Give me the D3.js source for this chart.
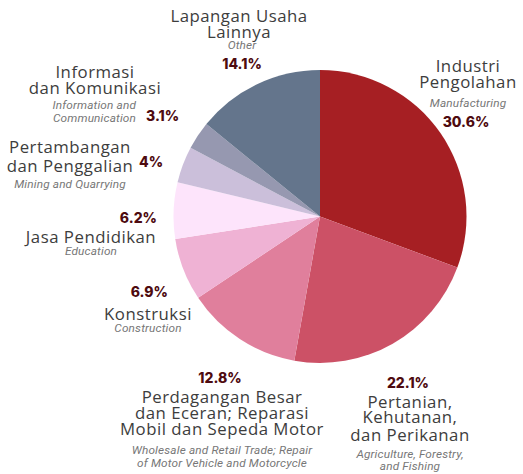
<!DOCTYPE html>
<html>
<head>
<meta charset="utf-8">
<script src="https://cdn.jsdelivr.net/npm/d3@7"></script>
<style>
  html, body { margin: 0; padding: 0; background: #ffffff; }
  svg { display: block; }
</style>
</head>
<body>
<svg id="chart" width="523" height="474"></svg>
<script>
// Sector shares of the economy (percent), drawn clockwise from 12 o'clock
const sectors = [
  "Industri Pengolahan",
  "Pertanian, Kehutanan, dan Perikanan",
  "Perdagangan Besar dan Eceran; Reparasi Mobil dan Sepeda Motor",
  "Konstruksi",
  "Jasa Pendidikan",
  "Pertambangan dan Penggalian",
  "Informasi dan Komunikasi",
  "Lapangan Usaha Lainnya"
];
const shares = [30.6, 22.1, 12.8, 6.9, 6.2, 4, 3.1, 14.1];
const shareLabels = ["30.6%", "22.1%", "12.8%", "6.9%", "6.2%", "4%", "3.1%", "14.1%"];
const titleLines = [
  ["Industri", "Pengolahan"],
  ["Pertanian,", "Kehutanan,", "dan Perikanan"],
  ["Perdagangan Besar", "dan Eceran; Reparasi", "Mobil dan Sepeda Motor"],
  ["Konstruksi"],
  ["Jasa Pendidikan"],
  ["Pertambangan", "dan Penggalian"],
  ["Informasi", "dan Komunikasi"],
  ["Lapangan Usaha", "Lainnya"]
];
const englishLines = [
  ["Manufacturing"],
  ["Agriculture, Forestry,", "and Fishing"],
  ["Wholesale and Retail Trade; Repair", "of Motor Vehicle and Motorcycle"],
  ["Construction"],
  ["Education"],
  ["Mining and Quarrying"],
  ["Information and", "Communication"],
  ["Other"]
];
const palette = ["#a61f23", "#cc5166", "#e07f9c", "#efb2d4", "#fde4fb", "#cbbfda", "#9698b0", "#64758c"];

// Label layout for each sector: block anchor and line baselines
const layout = [
  { x: 468, anchor: "middle", title: [72, 88], sub: [107], pct: { x: 466, y: 127, anchor: "middle" } },
  { x: 410, anchor: "middle", title: [408, 423, 441], sub: [458, 470], pct: { x: 408, y: 388, anchor: "middle" } },
  { x: 222, anchor: "middle", title: [403, 419, 435], sub: [454, 467], pct: { x: 220, y: 383, anchor: "middle" } },
  { x: 148, anchor: "middle", title: [320], sub: [332], pct: { x: 168, y: 297, anchor: "end" } },
  { x: 91, anchor: "middle", title: [243], sub: [255], pct: { x: 157, y: 223, anchor: "end" } },
  { x: 70, anchor: "middle", title: [153, 172], sub: [188], pct: { x: 139, y: 167, anchor: "start" } },
  { x: 95, anchor: "middle", title: [78, 94], sub: [109, 122], subX: 136, subAnchor: "end", pct: { x: 146, y: 121, anchor: "start" } },
  { x: 239, anchor: "middle", title: [22, 38], sub: [49], subX: 242, pct: { x: 242, y: 69, anchor: "middle" } }
];

const svg = d3.select("#chart");
const cx = 320, cy = 216.5, radius = 146.5;

const color = d3.scaleOrdinal().domain(sectors).range(palette);
const pie = d3.pie().sort(null).value(d => d.value).startAngle(0).endAngle(2 * Math.PI);
const arc = d3.arc().innerRadius(0).outerRadius(radius);

const data = sectors.map((s, i) => ({ name: s, value: shares[i], i }));

svg.append("g")
  .attr("transform", `translate(${cx},${cy})`)
  .selectAll("path")
  .data(pie(data))
  .join("path")
  .attr("d", arc)
  .attr("fill", d => color(d.data.name));

const labels = svg.append("g");
data.forEach((d, i) => {
  const L = layout[i];
  titleLines[i].forEach((line, k) => {
    labels.append("text")
      .attr("x", L.x).attr("y", L.title[k])
      .attr("text-anchor", L.anchor)
      .attr("font-family", "'Open Sans', 'DejaVu Sans', sans-serif")
      .attr("font-size", 16.8)
      .attr("letter-spacing", 0.5)
      .attr("fill", "#3d3d3d")
      .text(line);
  });
  englishLines[i].forEach((line, k) => {
    labels.append("text")
      .attr("x", L.subX !== undefined ? L.subX : L.x).attr("y", L.sub[k])
      .attr("text-anchor", L.subAnchor || L.anchor)
      .attr("font-family", "Roboto, 'Liberation Sans', sans-serif")
      .attr("font-style", "italic")
      .attr("font-size", 11.8)
      .attr("letter-spacing", 0.15)
      .attr("fill", "#777777")
      .text(line);
  });
  labels.append("text")
    .attr("x", L.pct.x).attr("y", L.pct.y)
    .attr("text-anchor", L.pct.anchor)
    .attr("font-family", "Inter, 'Open Sans', sans-serif")
    .attr("font-weight", 800)
    .attr("font-size", 14)
    .attr("fill", "#4e0b10")
    .text(shareLabels[i]);
});
</script>
</body>
</html>
